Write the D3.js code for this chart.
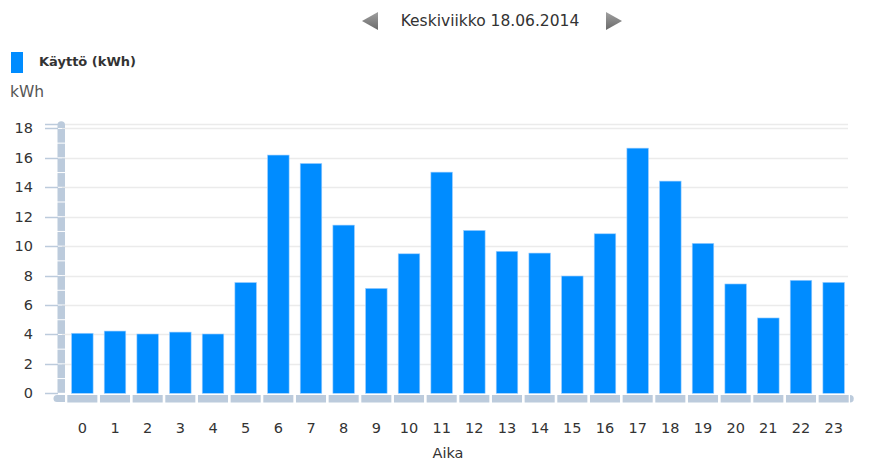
<!DOCTYPE html>
<html><head><meta charset="utf-8">
<script src="https://cdn.jsdelivr.net/npm/d3@7"></script>
<style>body{margin:0;background:#fff}svg{display:block}text{font-family:"DejaVu Sans",Verdana,sans-serif}</style>
</head><body>
<svg id="c" width="886" height="469"></svg>
<script>
const categories = ["0","1","2","3","4","5","6","7","8","9","10","11","12","13","14","15","16","17","18","19","20","21","22","23"];
const values = [4.08,4.23,4.03,4.16,4.03,7.53,16.19,15.62,11.43,7.13,9.48,15.03,11.07,9.65,9.53,7.97,10.84,16.66,14.42,10.19,7.43,5.12,7.68,7.54];
const yTicks = [0,2,4,6,8,10,12,14,16,18];
const title = "Keskiviikko 18.06.2014";
const seriesName = "Käyttö (kWh)";
const yTitle = "kWh";
const xTitle = "Aika";

const svg = d3.select("#c");
const x = d3.scaleBand().domain(categories).range([66, 850]).paddingInner(0.34).paddingOuter(0.17);
const xSeg = d3.scaleBand().domain(categories).range([66, 850]).paddingInner(0.08).paddingOuter(0.04);
const y = d3.scaleLinear().domain([0, 18.3]).range([393.3, 124]);

const grad = svg.append("defs").append("linearGradient").attr("id","tri").attr("x1",0).attr("y1",0).attr("x2",0).attr("y2",1);
grad.append("stop").attr("offset","0%").attr("stop-color","#a0a0a0");
grad.append("stop").attr("offset","100%").attr("stop-color","#6a6a6a");

// title
svg.append("text").attr("x",490).attr("y",26).attr("text-anchor","middle").attr("font-size",15.5).attr("fill","#333").text(title);
svg.append("path").attr("d","M378,12 L362,21 L378,30 Z").attr("fill","url(#tri)");
svg.append("path").attr("d","M606,12 L622,21 L606,30 Z").attr("fill","url(#tri)");

// legend
svg.append("rect").attr("x",11).attr("y",52).attr("width",12).attr("height",21).attr("fill","#008cff");
svg.append("text").attr("x",39).attr("y",66).attr("font-size",13).attr("font-weight","bold").attr("fill","#333").text(seriesName);
svg.append("text").attr("x",10).attr("y",97).attr("font-size",15.5).attr("fill","#555").text(yTitle);

// grid
svg.append("g").selectAll("line").data(yTicks.filter(d=>d>0)).join("line")
  .attr("x1",62).attr("x2",848).attr("y1",d=>Math.round(y(d))+0.5).attr("y2",d=>Math.round(y(d))+0.5)
  .attr("stroke","#ebebeb").attr("stroke-width",1.5);
svg.append("line").attr("x1",62).attr("x2",848).attr("y1",y(18.3)+0.5).attr("y2",y(18.3)+0.5).attr("stroke","#ebebeb").attr("stroke-width",1.5);

// y tick marks
svg.append("g").selectAll("line").data(yTicks.concat([18.3])).join("line")
  .attr("x1",45).attr("x2",58).attr("y1",d=>Math.round(y(d))+0.5).attr("y2",d=>Math.round(y(d))+0.5)
  .attr("stroke","#bccbdc").attr("stroke-width",1.5);

// y labels
svg.append("g").selectAll("text").data(yTicks).join("text")
  .attr("x",33).attr("y",d=>y(d)+5).attr("text-anchor","end").attr("font-size",14.5).attr("fill","#333").text(d=>d);

// y axis band segments
const segs = d3.range(0,18).map(d=>[d,d+1]);
svg.append("g").selectAll("rect").data(segs).join("rect")
  .attr("x",57.5).attr("width",7.5)
  .attr("y",d=>y(d[1])+0.5).attr("height",d=>y(d[0])-y(d[1])-1)
  .attr("fill","#bccbdc");
svg.append("path").attr("d",`M57.5,${y(18)-0.5} L57.5,${y(18.3)+1} A3.75,3.75 0 0 1 65,${y(18.3)+1} L65,${y(18)-0.5} Z`).attr("fill","#bccbdc");

// x axis band
svg.append("path").attr("d","M65,395 L65,402 L57,402 A3.5,3.5 0 0 1 57,395 Z").attr("fill","#bccbdc");
svg.append("g").selectAll("rect").data(categories).join("rect")
  .attr("x",d=>xSeg(d)).attr("width",xSeg.bandwidth()).attr("y",395).attr("height",7.5).attr("fill","#bccbdc");
svg.append("path").attr("d","M850,395 A3.75,3.75 0 0 1 850,402.5 Z").attr("fill","#bccbdc");

// bars
svg.append("g").selectAll("rect").data(values).join("rect")
  .attr("x",(d,i)=>x(categories[i])).attr("width",x.bandwidth())
  .attr("y",d=>y(d)).attr("height",d=>y(0)-y(d))
  .attr("fill","#008cff").attr("stroke","#9fd0ff").attr("stroke-width",0.6);

// x labels
svg.append("g").selectAll("text").data(categories).join("text")
  .attr("x",d=>x(d)+x.bandwidth()/2).attr("y",433).attr("text-anchor","middle").attr("font-size",14.5).attr("fill","#333").text(d=>d);
svg.append("text").attr("x",448).attr("y",458).attr("text-anchor","middle").attr("font-size",14.5).attr("fill","#333").text(xTitle);
</script>
</body></html>
